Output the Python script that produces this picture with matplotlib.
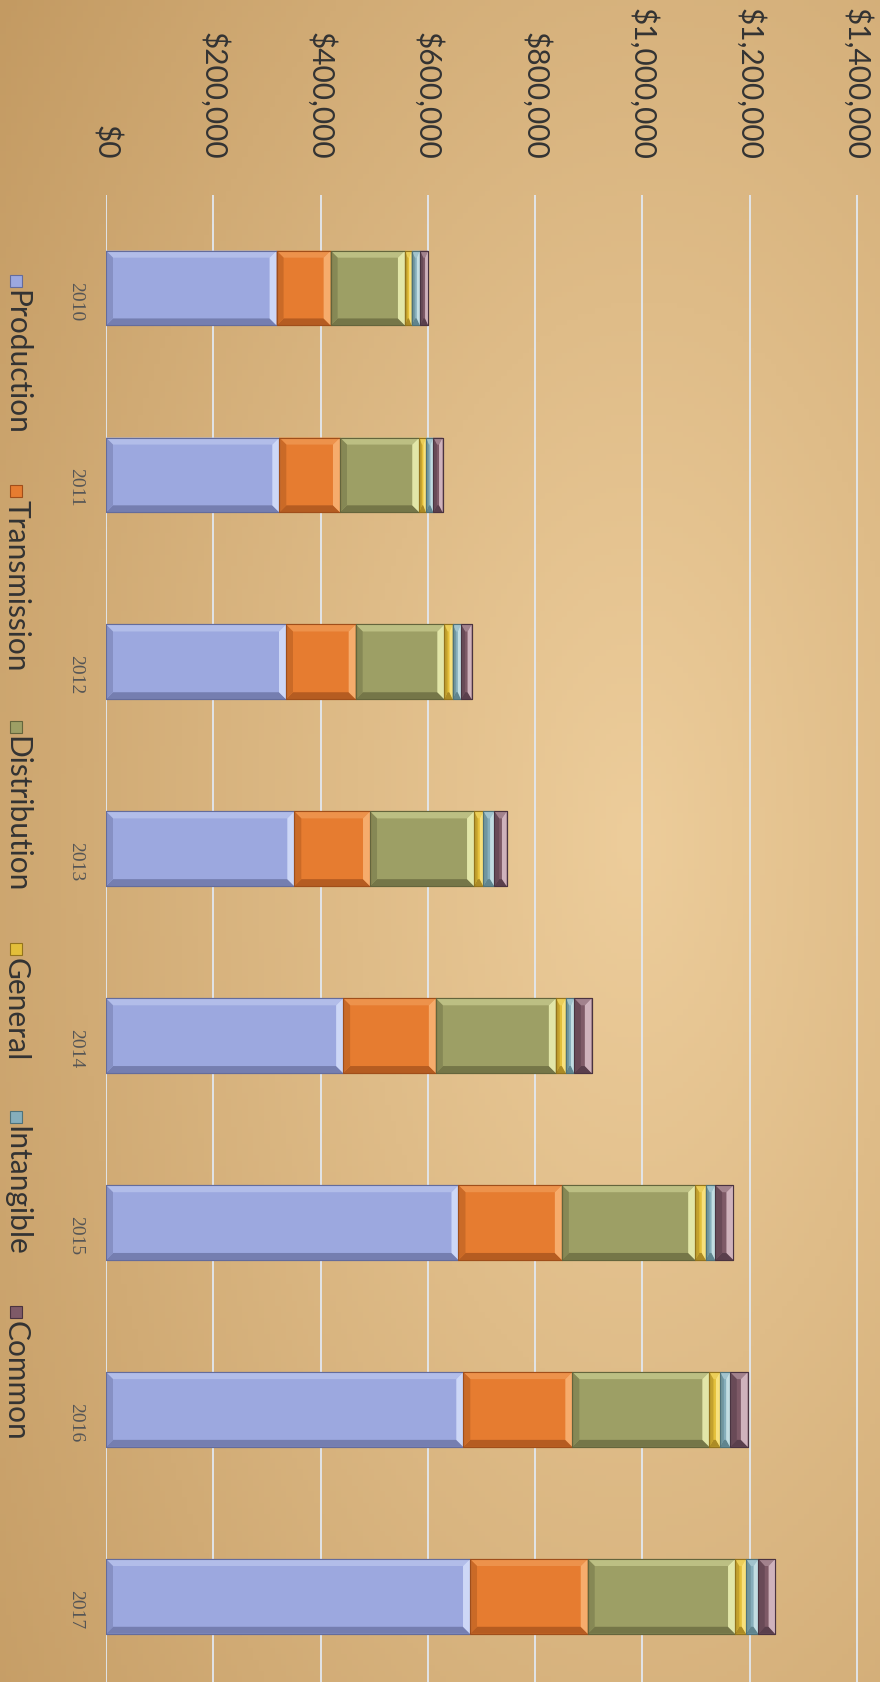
import numpy as np
import matplotlib.pyplot as plt
from matplotlib.patches import Polygon, Rectangle
from matplotlib.colors import to_rgb

plt.rcParams['font.family'] = ['Lato', 'DejaVu Sans']

# data
years = ['2010', '2011', '2012', '2013', '2014', '2015', '2016', '2017']
series = ['Production', 'Transmission', 'Distribution', 'General', 'Intangible', 'Common']
production = [318000, 323000, 335500, 351000, 442000, 657000, 666000, 678500]
transmission = [100700, 113100, 129900, 141100, 172800, 192700, 203200, 219400]
distribution = [138500, 147800, 165200, 193900, 223700, 248500, 255400, 274600]
general = [12500, 12500, 15600, 17300, 18600, 19900, 19900, 20500]
intangible = [15500, 13600, 15500, 20500, 15500, 17300, 18600, 22900]
common = [15500, 17500, 19900, 23100, 32400, 34100, 33000, 31100]
ticks = [0, 200000, 400000, 600000, 800000, 1000000, 1200000, 1400000]

values = [production, transmission, distribution, general, intangible, common]
base = ['#9ca8df', '#e67c30', '#9d9f65', '#e3bf3a', '#86aebb', '#7e5a67']
light = ['#cdd7f6', '#f6ac6c', '#e2e6a8', '#f7e07c', '#c2dde2', '#cfb2bc']
dark = ['#646c9c', '#a04e1a', '#64653c', '#94741c', '#4f727a', '#4a3340']

W, H = 880, 1682
fig = plt.figure(figsize=(W / 100, H / 100), dpi=100)

# paper-like background
bg = fig.add_axes([0, 0, 1, 1], zorder=-5)
yy, xx = np.mgrid[0:1:300j, 0:1:160j]
t = np.sqrt(((xx - 0.72) / 0.95) ** 2 + ((yy - 0.5) / 1.0) ** 2)
t = np.clip(t + 0.25 * np.clip(0.35 - yy, 0, 1) * (1 - xx), 0, 1)
c1 = np.array(to_rgb('#edcd9b'))
c0 = np.array(to_rgb('#c39a62'))
img = c1 * (1 - t[..., None]) + c0 * t[..., None]
bg.imshow(img, extent=[0, 1, 0, 1], aspect='auto', origin='upper')
bg.axis('off')

top_px = 194.6
ax = fig.add_axes([106 / W, 0, (W - 106) / W, (H - top_px) / H])
ax.patch.set_visible(False)
ax.set_xlim(0, 1442700)
ax.set_ylim(7.458, -0.5)
for s in ax.spines.values():
    s.set_visible(False)
ax.set_axisbelow(True)
ax.grid(axis='x', color='#e2e8f0', lw=1.3)
ax.grid(axis='y', visible=False)

ax.xaxis.set_ticks_position('top')
ax.set_xticks(ticks)
ax.set_xticklabels(['${:,.0f}'.format(v) for v in ticks], rotation=-90,
                   fontsize=21.5, color='#333333')
ax.tick_params(axis='x', length=0, pad=25)

ypos = np.arange(len(years))
ax.set_yticks(ypos)
ax.set_yticklabels(years, rotation=-90, fontsize=14, color='#555555',
                   fontfamily=['Liberation Serif', 'DejaVu Serif'])
ax.tick_params(axis='y', length=0, pad=16)

bar_h = 0.4
left = np.zeros(len(years))
containers = []
for i, vals in enumerate(values):
    bc = ax.barh(ypos, vals, left=left, height=bar_h, color=base[i],
                 edgecolor=dark[i], linewidth=0.8, zorder=2)
    containers.append(bc)
    left = left + np.array(vals)

# bevel edges, sized in pixels
ax_w = (W - 106)
ax_h = (H - top_px)
px_x = (ax.get_xlim()[1] - ax.get_xlim()[0]) / ax_w
px_y = abs(ax.get_ylim()[0] - ax.get_ylim()[1]) / ax_h
bev = 7
for i, bc in enumerate(containers):
    lc = np.array(to_rgb(light[i]))
    bcol = np.array(to_rgb(base[i]))
    dc = np.array(to_rgb(dark[i]))
    mid_l = 0.45 * lc + 0.55 * bcol
    mid_d = 0.4 * dc + 0.6 * bcol
    low_d = 0.7 * dc + 0.3 * bcol
    for p in bc.patches:
        l, w = p.get_x(), p.get_width()
        r = l + w
        y0 = p.get_y()
        y1 = y0 + p.get_height()
        bw = min(bev * px_x, w / 2.6)
        bh = min(bev * px_y, p.get_height() / 3)
        polys = [
            ([(l, y0), (r, y0), (r - bw, y0 + bh), (l + bw, y0 + bh)], mid_l),
            ([(l, y1), (r, y1), (r - bw, y1 - bh), (l + bw, y1 - bh)], low_d),
            ([(l, y0), (l + bw, y0 + bh), (l + bw, y1 - bh), (l, y1)], mid_d),
            ([(r, y0), (r - bw, y0 + bh), (r - bw, y1 - bh), (r, y1)], lc),
        ]
        for pts, col in polys:
            ax.add_patch(Polygon(pts, closed=True, facecolor=col,
                                 edgecolor='none', zorder=3))
        ax.add_patch(Rectangle((l, y0), w, p.get_height(), facecolor='none',
                               edgecolor=dark[i], lw=0.8, zorder=4))

# legend laid out along the left edge, reading downwards
renderer = fig.canvas.get_renderer()
cursor = 275
for i, name in enumerate(series):
    fig.patches.append(Rectangle((10 / W, 1 - (cursor + 12) / H), 12 / W, 12 / H,
                                 transform=fig.transFigure, facecolor=base[i],
                                 edgecolor=dark[i], lw=0.8))
    txt = fig.text(16 / W, 1 - (cursor + 15) / H, name, rotation=-90,
                   ha='center', va='top', fontsize=21.5, color='#333333')
    bb = txt.get_window_extent(renderer)
    cursor = H - bb.y0 + 50

fig.savefig('out.png', dpi=100)
